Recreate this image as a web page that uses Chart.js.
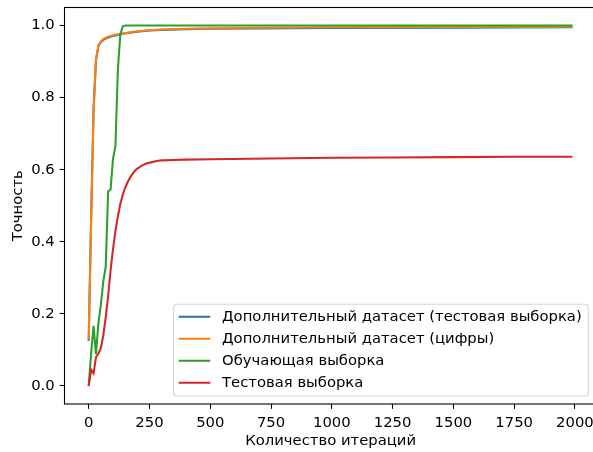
<!DOCTYPE html>
<html>
<head>
<meta charset="utf-8">
<script src="https://cdn.jsdelivr.net/npm/chart.js@4/dist/chart.umd.min.js"></script>
<style>
  html, body { margin: 0; padding: 0; overflow: hidden; background: #fff; }
  #wrap { width: 600px; height: 452px; }
</style>
</head>
<body>
<div id="wrap"><canvas id="c" width="600" height="452"></canvas></div>
<script>
// ---- data ----
const seriesLabels = [
  'Дополнительный датасет (тестовая выборка)',
  'Дополнительный датасет (цифры)',
  'Обучающая выборка',
  'Тестовая выборка'
];
const xTicks = [0, 250, 500, 750, 1000, 1250, 1500, 1750, 2000];
const xTickLabels = ['0', '250', '500', '750', '1000', '1250', '1500', '1750', '2000'];
const yTicks = [0, 0.2, 0.4, 0.6, 0.8, 1.0];
const yTickLabels = ['0.0', '0.2', '0.4', '0.6', '0.8', '1.0'];

const iterBlue = [0, 10, 20, 30, 40, 50, 60, 70, 80, 100, 120, 140, 170, 200, 250, 300, 400, 500, 700, 1000, 1500, 1990];
const accBlue  = [0.125, 0.47, 0.77, 0.905, 0.943, 0.954, 0.96, 0.964, 0.967, 0.971, 0.974, 0.977, 0.98, 0.983, 0.986, 0.988, 0.99, 0.991, 0.992, 0.993, 0.994, 0.995];

const iterOrange = [0, 10, 20, 30, 40, 50, 60, 70, 80, 100, 120, 140, 170, 200, 250, 300, 400, 500, 700, 1000, 1500, 1990];
const accOrange  = [0.128, 0.45, 0.76, 0.905, 0.945, 0.956, 0.962, 0.966, 0.969, 0.973, 0.976, 0.978, 0.981, 0.984, 0.987, 0.989, 0.991, 0.992, 0.994, 0.995, 0.996, 0.997];

const iterGreen = [0, 10, 20, 30, 40, 50, 60, 70, 80, 90, 100, 110, 120, 130, 140, 150, 500, 1000, 1500, 1990];
const accGreen  = [0.0, 0.09, 0.167, 0.088, 0.175, 0.225, 0.29, 0.33, 0.54, 0.545, 0.63, 0.665, 0.878, 0.975, 0.998, 1.0, 1.0, 1.0, 1.0, 1.0];

const iterRed = [0, 10, 20, 30, 40, 50, 60, 70, 80, 90, 100, 110, 120, 130, 140, 150, 160, 170, 180, 190, 200, 220, 240, 260, 280, 300, 350, 400, 500, 750, 1000, 1250, 1500, 1750, 1990];
const accRed  = [0.0, 0.045, 0.035, 0.08, 0.09, 0.105, 0.14, 0.19, 0.25, 0.32, 0.38, 0.43, 0.47, 0.505, 0.53, 0.55, 0.565, 0.578, 0.588, 0.597, 0.603, 0.612, 0.618, 0.621, 0.624, 0.626, 0.627, 0.628, 0.629, 0.631, 0.633, 0.634, 0.635, 0.636, 0.636];

const colors = ['#1f77b4', '#ff7f0e', '#2ca02c', '#d62728'];

// ---- build datasets ----
function pts(xs, ys) { return xs.map((x, i) => ({ x: x, y: ys[i] })); }
const allX = [iterBlue, iterOrange, iterGreen, iterRed];
const allY = [accBlue, accOrange, accGreen, accRed];

const FS = 14.8;
const FONT = 'DejaVu Sans';

const datasets = seriesLabels.map((lab, i) => ({
  label: lab,
  data: pts(allX[i], allY[i]),
  borderColor: colors[i],
  backgroundColor: colors[i],
  borderWidth: 2.1,
  pointRadius: 0,
  tension: 0,
  fill: false,
  order: 4 - i
}));

const framePlugin = {
  id: 'frameAndLegend',
  afterDatasetsDraw(chart) {
    const { ctx, chartArea: a } = chart;
    ctx.save();
    ctx.strokeStyle = '#000';
    ctx.lineWidth = 1.1;
    ctx.strokeRect(a.left, a.top, a.right - a.left, a.bottom - a.top);
    ctx.restore();
  },
  afterDraw(chart) {
    const { ctx, chartArea: a } = chart;
    ctx.save();
    ctx.font = FS + 'px "' + FONT + '"';
    let maxW = 0;
    seriesLabels.forEach(l => { maxW = Math.max(maxW, ctx.measureText(l).width); });
    const right = a.right - 8.4;
    const bottom = a.bottom - 8.0;
    const padL = 5, handle = 31.7, gap = 11.7, padR = 6.6;
    const left = right - (padL + handle + gap + maxW + padR);
    const rowH = 22;
    const lastRowY = bottom - 13.3;
    const firstRowY = lastRowY - rowH * (seriesLabels.length - 1);
    const top = firstRowY - 12.4;
    // frame
    const r = 3;
    ctx.beginPath();
    ctx.moveTo(left + r, top);
    ctx.lineTo(right - r, top);
    ctx.quadraticCurveTo(right, top, right, top + r);
    ctx.lineTo(right, bottom - r);
    ctx.quadraticCurveTo(right, bottom, right - r, bottom);
    ctx.lineTo(left + r, bottom);
    ctx.quadraticCurveTo(left, bottom, left, bottom - r);
    ctx.lineTo(left, top + r);
    ctx.quadraticCurveTo(left, top, left + r, top);
    ctx.closePath();
    ctx.fillStyle = 'rgba(255,255,255,0.8)';
    ctx.fill();
    ctx.strokeStyle = 'rgba(204,204,204,0.8)';
    ctx.lineWidth = 1.1;
    ctx.stroke();
    // entries
    ctx.textBaseline = 'middle';
    ctx.textAlign = 'left';
    seriesLabels.forEach((l, i) => {
      const y = firstRowY + i * rowH;
      ctx.strokeStyle = colors[i];
      ctx.lineWidth = 2.1;
      ctx.beginPath();
      ctx.moveTo(left + padL, y);
      ctx.lineTo(left + padL + handle, y);
      ctx.stroke();
      ctx.fillStyle = '#000';
      ctx.fillText(l, left + padL + handle + gap, y + 0.5);
    });
    ctx.restore();
  }
};

new Chart(document.getElementById('c'), {
  type: 'line',
  data: { datasets: datasets },
  options: {
    responsive: false,
    animation: false,
    devicePixelRatio: 1,
    layout: { padding: { top: 7.5, right: 3.3, left: 0, bottom: 0 } },
    plugins: { legend: { display: false }, tooltip: { enabled: false } },
    scales: {
      x: {
        type: 'linear',
        min: -99.5,
        max: 2089.5,
        afterBuildTicks: (s) => { s.ticks = xTicks.map(v => ({ value: v })); },
        afterFit: (s) => { s.height = 48; s.paddingLeft = 0; s.paddingRight = 0; },
        ticks: {
          callback: (v, i) => xTickLabels[i],
          color: '#000',
          font: { family: FONT, size: FS },
          padding: 5,
          maxRotation: 0,
          autoSkip: false
        },
        grid: { drawOnChartArea: false, drawTicks: true, tickLength: 4.9, tickWidth: 1.1, tickColor: '#000' },
        border: { display: false },
        title: { display: true, text: 'Количество итераций', color: '#000', font: { family: FONT, size: FS }, padding: { top: 0, bottom: 1.5 } }
      },
      y: {
        type: 'linear',
        min: -0.05,
        max: 1.05,
        afterBuildTicks: (s) => { s.ticks = yTicks.map(v => ({ value: v })); },
        afterFit: (s) => { s.width = 64.5; s.paddingTop = 0; s.paddingBottom = 0; },
        ticks: {
          callback: (v, i) => yTickLabels[i],
          color: '#000',
          font: { family: FONT, size: FS },
          padding: 4.9,
          autoSkip: false
        },
        grid: { drawOnChartArea: false, drawTicks: true, tickLength: 4.9, tickWidth: 1.1, tickColor: '#000' },
        border: { display: false },
        title: { display: true, text: 'Точность', color: '#000', font: { family: FONT, size: FS }, padding: { top: 9, bottom: 0 } }
      }
    }
  },
  plugins: [framePlugin]
});
</script>
</body>
</html>
